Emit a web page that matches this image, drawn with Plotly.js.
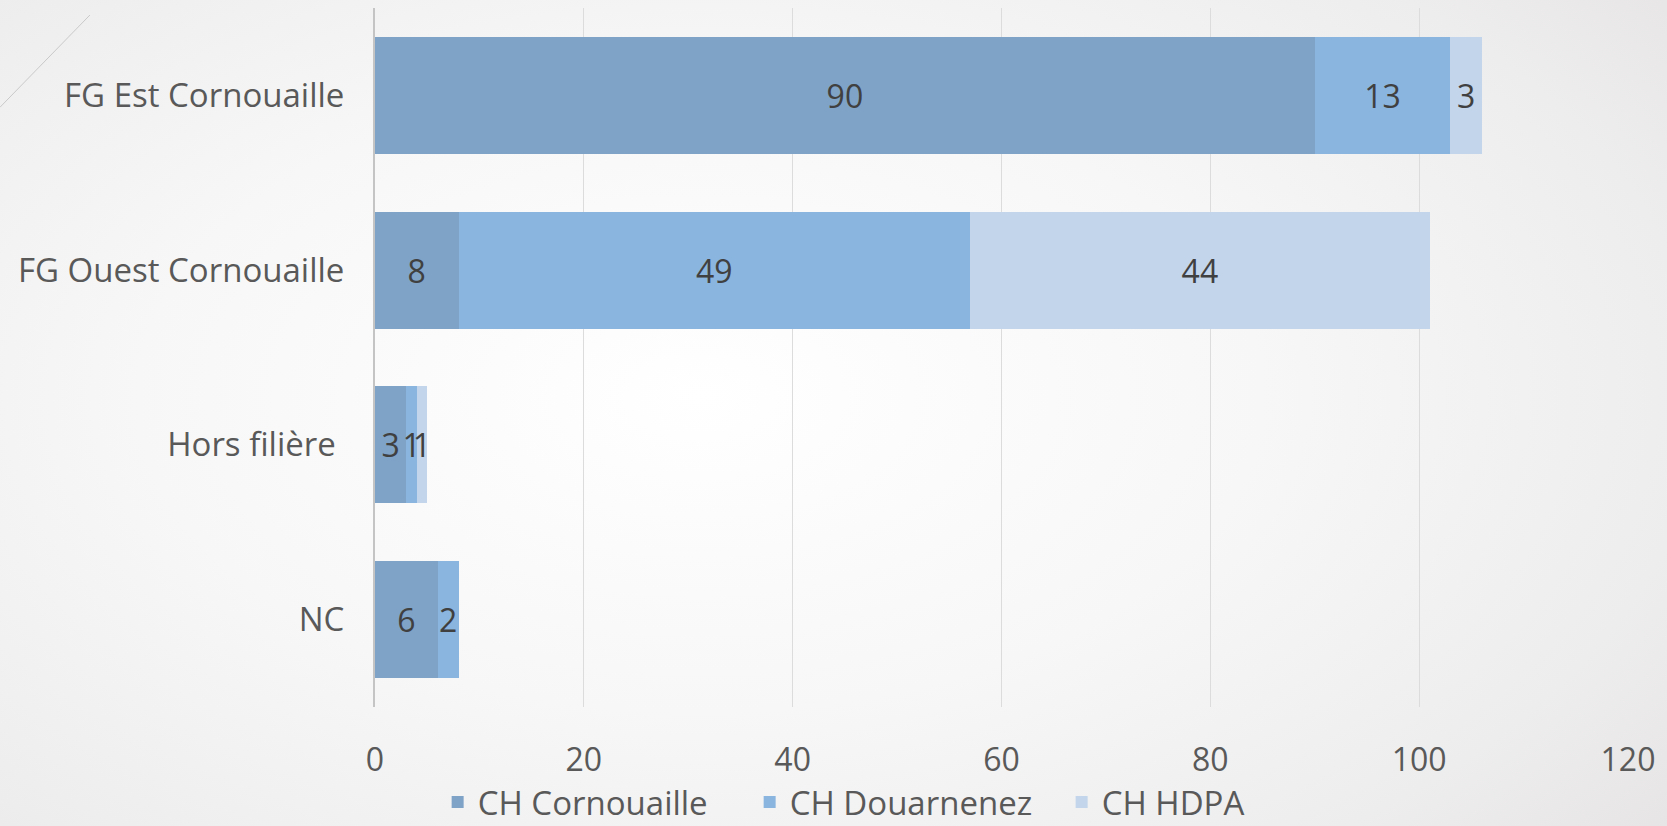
<!DOCTYPE html>
<html>
<head>
<meta charset="utf-8">
<script src="https://cdn.plot.ly/plotly-3.0.1.min.js"></script>
<style>
html, body { margin:0; padding:0; }
body {
  width:1667px; height:826px; overflow:hidden;
  background: radial-gradient(ellipse 75% 85% at 42% 48%, #ffffff 0%, #f7f7f7 45%, #eeeded 80%, #e6e4e4 100%);
}
#chart { width:1667px; height:826px; }
</style>
</head>
<body>
<div id="chart"></div>
<script>
const categories = ["FG Est Cornouaille", "FG Ouest Cornouaille", "Hors filière\u00a0", "NC"];
const seriesNames = ["CH Cornouaille", "CH Douarnenez", "CH HDPA"];
const chCornouaille = [90, 8, 3, 6];
const chDouarnenez = [13, 49, 1, 2];
const chHDPA = [3, 44, 1, null];
const xTicks = [0, 20, 40, 60, 80, 100, 120];
const colors = ["#7fa3c7", "#8ab5df", "#c2d5eb"];

const FONT = "Open Sans, Lato, sans-serif";
const values = [chCornouaille, chDouarnenez, chHDPA];
const traces = values.map((v, i) => ({
  type: "bar",
  orientation: "h",
  name: seriesNames[i],
  y: categories,
  x: v,
  text: v.map(d => d == null ? "" : String(d)),
  textposition: "inside",
  insidetextanchor: "middle",
  constraintext: "none",
  textangle: 0,
  textfont: {family: FONT, size: 32, color: "#404040"},
  marker: {color: colors[i], line: {width: 0}},
  hoverinfo: "x+y+name"
}));

const layout = {
  width: 1667, height: 826,
  margin: {l: 375, r: 39, t: 8, b: 119, autoexpand: false},
  paper_bgcolor: "rgba(0,0,0,0)",
  plot_bgcolor: "rgba(0,0,0,0)",
  barmode: "stack",
  bargap: 0.33,
  showlegend: true,
  legend: {
    orientation: "h",
    xref: "paper", x: 0.050, xanchor: "left",
    yref: "container", y: 0.029, yanchor: "middle",
    entrywidth: 267,
    font: {family: FONT, size: 33, color: "#595959"},
    bgcolor: "rgba(0,0,0,0)",
    traceorder: "normal"
  },
  xaxis: {
    range: [0, 120],
    tickvals: xTicks,
    ticktext: xTicks.map(String),
    showgrid: true,
    gridcolor: "#dcdcdc",
    gridwidth: 1,
    zeroline: false,
    showline: false,
    ticks: "",
    ticklabelstandoff: 31,
    tickfont: {family: FONT, size: 32, color: "#595959"},
    fixedrange: true
  },
  yaxis: {
    autorange: "reversed",
    showgrid: false,
    zeroline: false,
    showline: true,
    linecolor: "#c4c4c4",
    linewidth: 2,
    ticks: "",
    ticklabelstandoff: 22,
    tickfont: {family: FONT, size: 33, color: "#595959"},
    fixedrange: true
  },
  shapes: [{
    type: "line", xref: "paper", yref: "paper",
    x0: -0.2993, y0: 0.858, x1: -0.2275, y1: 0.990,
    line: {color: "#c9c9c9", width: 1}
  }]
};

Plotly.newPlot("chart", traces, layout, {displayModeBar: false, staticPlot: true});
</script>
</body>
</html>
